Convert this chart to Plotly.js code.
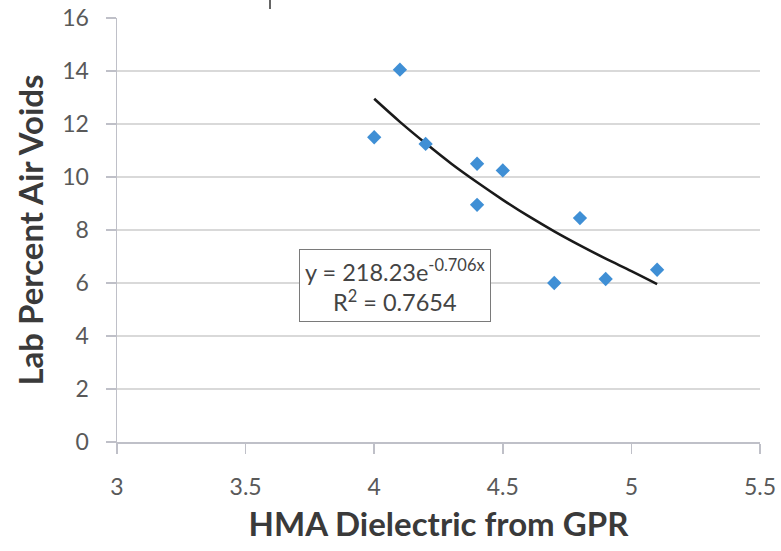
<!DOCTYPE html>
<html><head><meta charset="utf-8">
<script src="https://cdn.plot.ly/plotly-3.0.1.min.js"></script>
<style>html,body{margin:0;padding:0;background:#fff}</style>
</head><body>
<div id="chart" style="width:781px;height:551px"></div>
<script>
// Measured data points
const dielectric = [4.0, 4.1, 4.2, 4.4, 4.4, 4.5, 4.7, 4.8, 4.9, 5.1];
const airVoids   = [11.5, 14.05, 11.25, 10.5, 8.95, 10.25, 6.0, 8.45, 6.15, 6.5];
// Trendline
const trendX = [4.0, 4.1, 4.2, 4.3, 4.4, 4.5, 4.6, 4.7, 4.8, 4.9, 5.0, 5.1];
const trendY = [12.95, 12.08, 11.27, 10.5, 9.8, 9.14, 8.52, 7.95, 7.42, 6.92, 6.45, 5.96];
const xTicks = [3, 3.5, 4, 4.5, 5, 5.5];
const yTicks = [0, 2, 4, 6, 8, 10, 12, 14, 16];

const font = "Lato, 'Open Sans', sans-serif";
const L = 117, R = 21, T = 18, B = 109;
const PW = 781 - L - R, PH = 551 - T - B;
const data = [
  {x: trendX, y: trendY, type: 'scatter', mode: 'lines',
   line: {color: '#1a1a1a', width: 2.6, shape: 'spline'}, hoverinfo: 'skip'},
  {x: dielectric, y: airVoids, type: 'scatter', mode: 'markers',
   marker: {symbol: 'diamond', size: 11, color: '#3f8fd5'}}
];
const layout = {
  width: 781, height: 551, showlegend: false,
  margin: {l: L, r: R, t: T, b: B},
  paper_bgcolor: '#fff', plot_bgcolor: '#fff',
  font: {family: font, color: '#595959'},
  xaxis: {range: [3, 5.5], tickvals: xTicks, ticktext: xTicks.map(String),
    showgrid: false, zeroline: false, showline: true, linecolor: '#bfc0c8', linewidth: 1.5,
    ticks: 'outside', ticklen: 10, tickcolor: '#bfc0c8', tickwidth: 1.5,
    tickfont: {size: 23, color: '#595959', family: font}, ticklabelstandoff: 14,
    title: {text: 'HMA Dielectric from GPR', font: {size: 33, color: '#3a3a3a', family: font, weight: 'bold'}, standoff: 14}},
  yaxis: {range: [0, 16], tickvals: yTicks, ticktext: yTicks.map(String),
    showgrid: true, gridcolor: '#d9d9d9', gridwidth: 1.5, zeroline: false,
    showline: true, linecolor: '#bfc0c8', linewidth: 1.5,
    ticks: 'outside', ticklen: 10, tickcolor: '#bfc0c8', tickwidth: 1.5,
    tickfont: {size: 23, color: '#595959', family: font}, ticklabelstandoff: 12,
    title: {text: 'Lab Percent Air Voids', font: {size: 33, color: '#3a3a3a', family: font, weight: 'bold'}, standoff: 8}},
  annotations: [{
    xref: 'paper', yref: 'paper', x: (395 - L) / PW, y: (551 - B - 285.5) / PH,
    xanchor: 'center', yanchor: 'middle', showarrow: false, align: 'center',
    text: 'y = 218.23e<sup>-0.706x</sup><br>R<sup>2</sup> = 0.7654',
    font: {size: 23.5, color: '#444', family: font},
    bordercolor: '#7a7a7a', borderwidth: 1, bgcolor: '#fff', borderpad: 5
  }],
  shapes: [{type: 'line', xref: 'paper', yref: 'paper',
    x0: (270 - L) / PW, x1: (270 - L) / PW, y0: (551 - B - 0) / PH, y1: (551 - B - 9) / PH,
    line: {color: '#333', width: 1.5}}]
};
Plotly.newPlot('chart', data, layout, {displayModeBar: false, staticPlot: true});
</script>
</body></html>
